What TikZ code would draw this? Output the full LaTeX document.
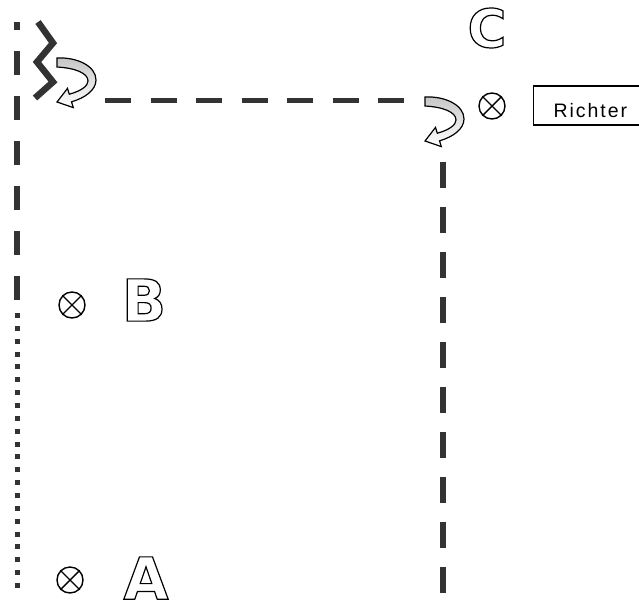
\documentclass[tikz,border=0pt]{standalone}
\usepackage{fontspec}
\setmainfont{Liberation Sans}
\newfontfamily\letterfont{DejaVu Sans Bold}
\newcommand\hollow[1]{\special{pdf:literal direct 1 Tr 1.2 w}#1\special{pdf:literal direct 0 Tr}}
\tikzstyle{otimes} = [draw, circle, line width=1.4pt, minimum size=26pt, inner sep=0pt]
\tikzstyle{bigletter} = [inner sep=0pt, font=\fontsize{58}{58}\selectfont\letterfont]
\tikzstyle{richterbox} = [draw, line width=1.2pt, minimum height=39pt, inner xsep=20pt, text height=23pt, text depth=0pt, font=\fontsize{19.5}{20}\selectfont]
\tikzstyle{wall} = [line width=6pt, black!80]
\tikzstyle{zigzag} = [line width=6.5pt, black!80, miter limit=4]
\tikzstyle{curlfill} = [line width=1.2pt, top color=gray!45, bottom color=white]
\tikzset{curlarrow/.pic={
  \draw[curlfill] (0,0) .. controls (20,-1) and (39,8) .. (39,22)
    .. controls (39,32) and (28,40) .. (14.5,43.8) -- (16.3,49.6) -- (0,44)
    -- (10.5,30.4) -- (12.3,36.2) .. controls (24,33) and (31,28) .. (31,23)
    .. controls (31,15) and (18,10) .. (0,9) -- cycle;
}}
\begin{document}
\begin{tikzpicture}[x=1pt, y=-1pt]
\useasboundingbox (0,0) rectangle (639,605);
\draw[wall, dash pattern=on 24pt off 21pt, dash phase=16pt] (17,22) -- (17,302);
\draw[wall, line width=5pt, dash pattern=on 5pt off 7.86pt] (17,313) -- (17,590);
\draw[wall, line width=5pt, dash pattern=on 26pt off 19.5pt] (105,100) -- (404,100);
\draw[wall, dash pattern=on 26pt off 19pt] (443,162) -- (443,594);
\draw[zigzag] (38,22) -- (53,43) -- (37,62) -- (53,82) -- (35,98);
\pic at (57,58) {curlarrow};
\pic at (425,97) {curlarrow};
\node[otimes] (xC) at (492,106) {};
\node[otimes] (xB) at (72,305) {};
\node[otimes] (xA) at (70,580) {};
\draw[line width=1.4pt] (xC.45) -- (xC.225) (xC.135) -- (xC.315);
\draw[line width=1.4pt] (xB.45) -- (xB.225) (xB.135) -- (xB.315);
\draw[line width=1.4pt] (xA.45) -- (xA.225) (xA.135) -- (xA.315);
\node[bigletter] (lA) at (146,578) {\hollow{A}};
\node[bigletter] (lB) at (144,300) {\hollow{B}};
\node[bigletter, font=\fontsize{53}{53}\selectfont\letterfont] (lC) at (487,28) {\hollow{C}};
\node[richterbox, anchor=west] (richter) at (533,105.5) {\addfontfeature{LetterSpace=10}Richter};
\end{tikzpicture}
\end{document}
